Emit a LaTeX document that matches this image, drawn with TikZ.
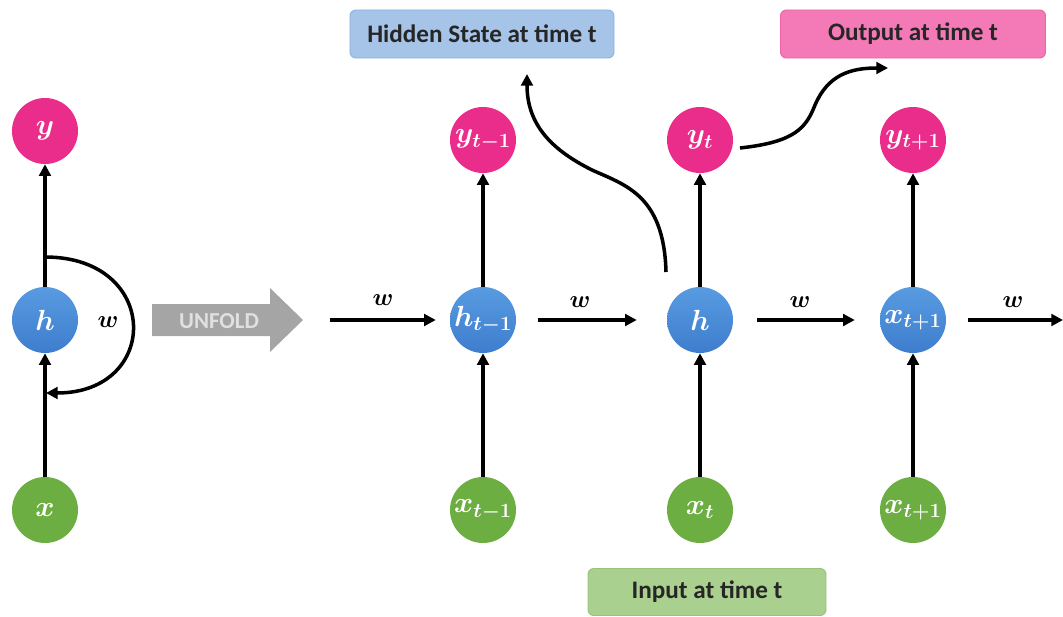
\documentclass[tikz,border=0pt]{standalone}
\usepackage{fontspec}
\setmainfont{Carlito}
\usepackage{amsmath,bm}
\usetikzlibrary{arrows.meta}

\definecolor{ynode}{RGB}{234,44,138}
\definecolor{hnodeT}{RGB}{88,155,225}
\definecolor{hnodeB}{RGB}{62,125,205}
\definecolor{xnode}{RGB}{108,174,66}
\definecolor{hidbox}{RGB}{166,196,232}
\definecolor{hidline}{RGB}{140,178,222}
\definecolor{outbox}{RGB}{243,122,182}
\definecolor{outline}{RGB}{236,100,165}
\definecolor{inbox}{RGB}{170,208,144}
\definecolor{inline}{RGB}{150,195,120}
\definecolor{unfold}{RGB}{165,165,165}

\tikzset{
  unit/.style={circle, minimum size=1.98cm, inner sep=0pt, text=white,
    font=\fontsize{24}{28}\selectfont},
  ycell/.style={unit, fill=ynode},
  hcell/.style={unit, top color=hnodeT, bottom color=hnodeB},
  xcell/.style={unit, fill=xnode},
  flow/.style={line width=3pt, -{Triangle[length=10pt,width=10pt]}},
  wlab/.style={font=\fontsize{22}{24}\selectfont},
  tag/.style={rounded corners=5pt, line width=0.8pt, inner sep=0pt,
    font=\bfseries\fontsize{21.5}{24}\selectfont, text=black!85},
}

\begin{document}
\begin{tikzpicture}[x=0.03cm, y=-0.03cm]
\useasboundingbox (0,0) rectangle (1063,617);

% folded network
\node[ycell] (y0) at (45,131) {$\bm{y}$};
\node[hcell] (h0) at (45,320) {$\bm{h}$};
\node[xcell] (x0) at (45,510) {$\bm{x}$};
\draw[flow] (x0) -- (h0);
\draw[flow] (h0) -- (y0);
\coordinate (loopTop) at (45,257);
\coordinate (loopBot) at (46,393);
\draw[flow] (loopTop) .. controls (161,257) and (161,393) .. (loopBot);
\node[wlab] (w0) at (108,322) {$\bm{w}$};

% unfold arrow
\fill[unfold] (152,304) -- (270,304) -- (270,288) -- (303,320)
  -- (270,352) -- (270,336) -- (152,336) -- cycle;
\node[font=\bfseries\fontsize{19.5}{22}\selectfont, text=white!88!black]
  (unf) at (219,321) {UNFOLD};

% unrolled network
\node[ycell] (y1) at (483,140) {$\bm{y_{t-1}}$};
\node[hcell] (h1) at (483,320) {$\bm{h_{t-1}}$};
\node[xcell] (x1) at (483,510) {$\bm{x_{t-1}}$};
\node[ycell] (y2) at (700,140) {$\bm{y_{t}}$};
\node[hcell] (h2) at (700,320) {$\bm{h}$};
\node[xcell] (x2) at (700,510) {$\bm{x_{t}}$};
\node[ycell] (y3) at (913,140) {$\bm{y_{t+1}}$};
\node[hcell] (h3) at (913,320) {$\bm{x_{t+1}}$};
\node[xcell] (x3) at (913,510) {$\bm{x_{t+1}}$};

\foreach \i in {1,2,3}{
  \draw[flow] (x\i) -- (h\i);
  \draw[flow] (h\i) -- (y\i);
}

% recurrent connections
\coordinate (wIn) at (330,320);
\coordinate (wOut) at (1063,320);
\draw[flow, shorten >=0.42cm] (wIn) -- (h1);
\draw[flow, shorten <=0.66cm, shorten >=0.9cm] (h1) -- (h2);
\draw[flow, shorten <=0.72cm, shorten >=0.75cm] (h2) -- (h3);
\draw[flow, shorten <=0.66cm] (h3) -- (wOut);
\node[wlab] (w1) at (383,300) {$\bm{w}$};
\node[wlab] (w2) at (580,302) {$\bm{w}$};
\node[wlab] (w3) at (800,302) {$\bm{w}$};
\node[wlab] (w4) at (1013,302) {$\bm{w}$};

% annotation boxes
\node[tag, fill=hidbox, draw=hidline, minimum width=7.92cm, minimum height=1.44cm]
  (hid) at (482,34) {Hidden State at time t};
\node[tag, fill=outbox, draw=outline, minimum width=7.95cm, minimum height=1.44cm]
  (out) at (913,34) {Output at time t};
\node[tag, fill=inbox, draw=inline, minimum width=7.14cm, minimum height=1.41cm]
  (inp) at (707,592) {Input at time t};

% annotation pointers
\coordinate (hidStart) at (666,272);
\coordinate (hidEnd) at (527,74);
\draw[flow] (hidStart) .. controls (664,195) and (625,185) .. (592,170)
  .. controls (552,150) and (527,125) .. (hidEnd);
\coordinate (outStart) at (740,148);
\coordinate (outEnd) at (888,68);
\draw[flow] (outStart) .. controls (795,142) and (806,128) .. (815,105)
  .. controls (828,75) and (850,68) .. (outEnd);
\end{tikzpicture}
\end{document}
